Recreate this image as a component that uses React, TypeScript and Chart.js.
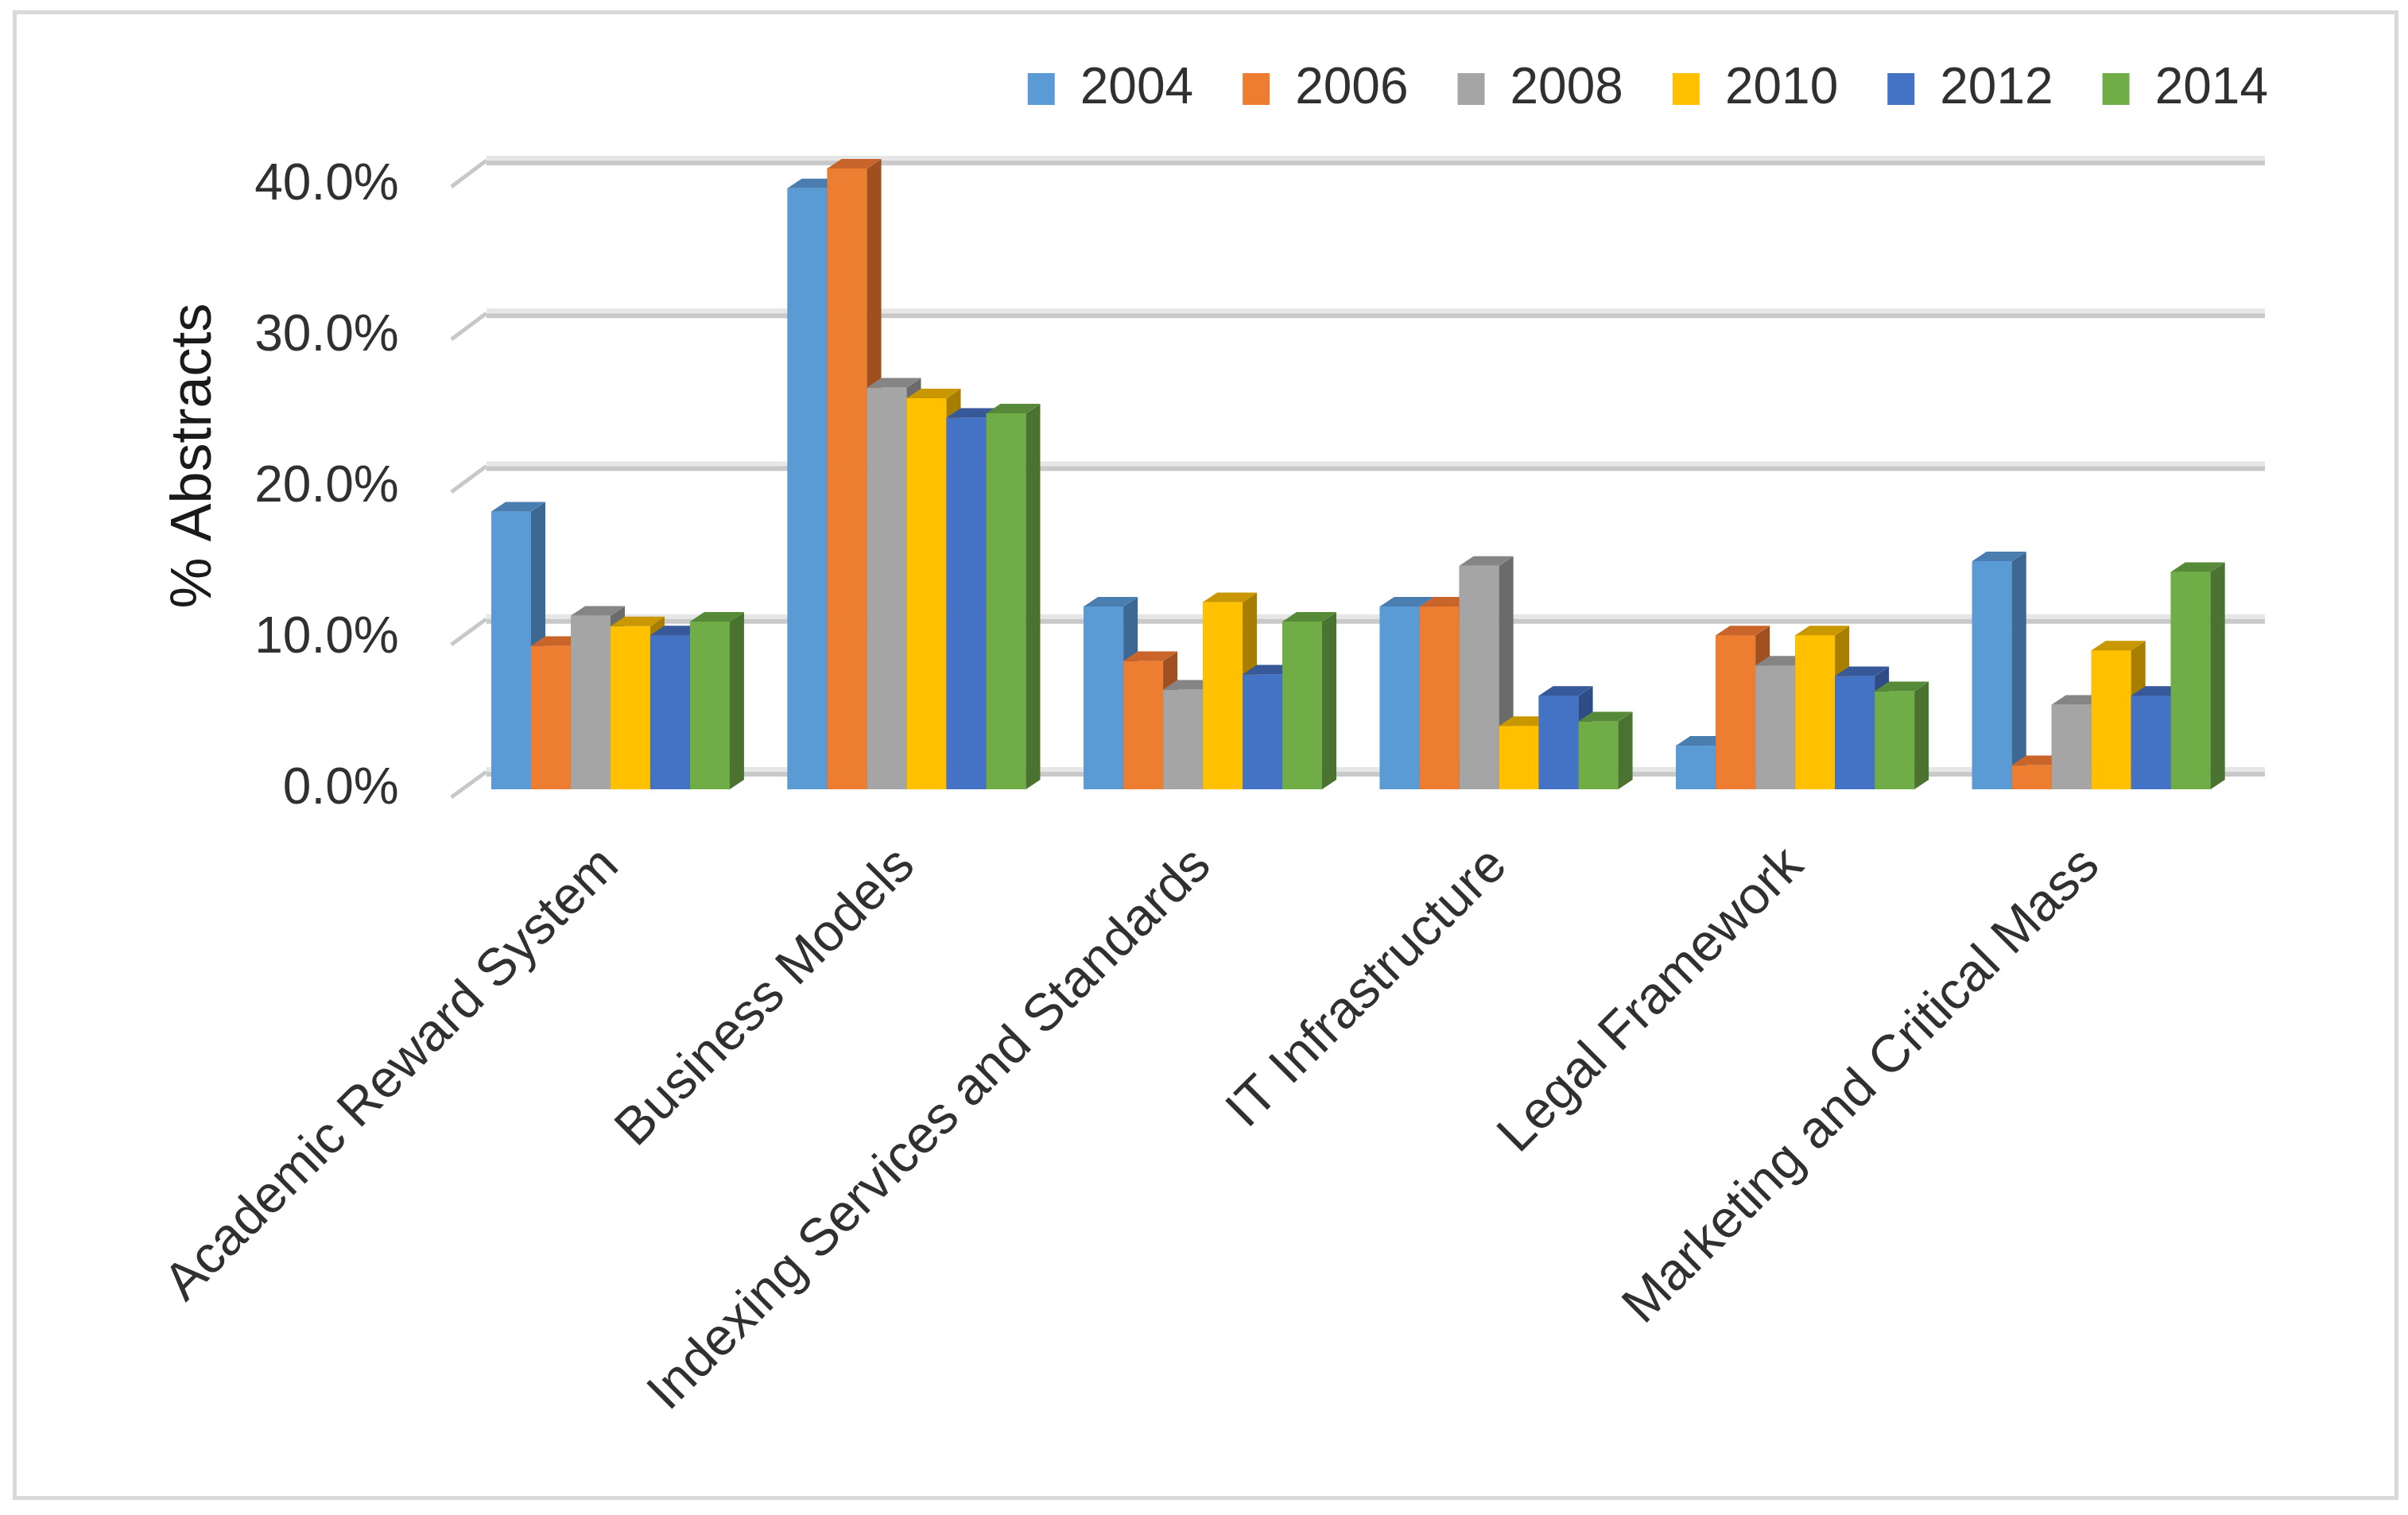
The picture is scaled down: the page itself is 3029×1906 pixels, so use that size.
import React, { useEffect, useRef } from "react";
import { Chart, registerables } from "chart.js";

Chart.register(...registerables);

// ---- data ----
const categories = [
  "Academic Reward System",
  "Business Models",
  "Indexing Services and Standards",
  "IT Infrastructure",
  "Legal Framework",
  "Marketing and Critical Mass",
];
const years = ["2004", "2006", "2008", "2010", "2012", "2014"];
const s2004 = [18.4, 39.8, 12.1, 12.1, 2.9, 15.1];
const s2006 = [9.5, 41.1, 8.5, 12.1, 10.2, 1.6];
const s2008 = [11.5, 26.6, 6.6, 14.8, 8.2, 5.6];
const s2010 = [10.8, 25.9, 12.4, 4.2, 10.2, 9.2];
const s2012 = [10.2, 24.6, 7.6, 6.2, 7.5, 6.2];
const s2014 = [11.1, 24.9, 11.1, 4.5, 6.5, 14.4];
const seriesValues = [s2004, s2006, s2008, s2010, s2012, s2014];
const yTickValues = [0, 10, 20, 30, 40];
const yTitle = "% Abstracts";

// ---- styles ----
const frontColors = ["#5B9BD5", "#ED7D31", "#A5A5A5", "#FFC000", "#4472C4", "#70AD47"];
const topColors = ["#4A7EB0", "#C9652A", "#858585", "#C99700", "#37599A", "#578A38"];
const sideColors = ["#3C6893", "#A0501E", "#6B6B6B", "#A77E00", "#2E4D87", "#4A7230"];
const PX_PER_UNIT = 19.0;
const DEPTH_X = 18;
const DEPTH_Y = 12;
const FONT = "'Liberation Sans', Arial, sans-serif";
const TEXT_COLOR = "#303030";

const wallPlugin = {
  id: "wall3d",
  afterLayout(chart: any) {
    const ys = chart.scales.y;
    const ca = chart.chartArea;
    ys.max = (ca.bottom - ca.top) / PX_PER_UNIT;
    ys.configure();
  },
  beforeDatasetsDraw(chart: any) {
    const { ctx, chartArea } = chart;
    const ys = chart.scales.y;
    ctx.save();
    for (const v of yTickValues) {
      const yF = ys.getPixelForValue(v);
      const yB = yF - 22 - (v / 40) * 9;
      const x0 = chartArea.left + 30;
      const x1 = chartArea.right + 32;
      ctx.fillStyle = "#e6e6e6";
      ctx.fillRect(x0, yB - 6, x1 - x0, 6);
      ctx.fillStyle = "#c9c9c9";
      ctx.fillRect(x0, yB, x1 - x0, 6);
      // diagonal connector
      ctx.strokeStyle = "#c8c8c8";
      ctx.lineWidth = 5;
      ctx.beginPath();
      ctx.moveTo(chartArea.left - 14, yF + 2 + (1 - v / 40) * 8);
      ctx.lineTo(x0, yB);
      ctx.stroke();
    }
    ctx.restore();
  },
};

// Repaints each bar (front, right side, top) in series order so that
// the bar to the right hides the side face of its left neighbour.
const barPlugin = {
  id: "bar3d",
  afterDatasetsDraw(chart: any) {
    const { ctx } = chart;
    ctx.save();
    for (let idx = 0; idx < chart.data.datasets.length; idx++) {
      const meta = chart.getDatasetMeta(idx);
      if (!meta || meta.hidden) continue;
      meta.data.forEach((el: any) => {
        const { x, y, base, width } = el.getProps(["x", "y", "base", "width"], true);
        const l = x - width / 2;
        const r = x + width / 2;
        // front face
        ctx.fillStyle = frontColors[idx];
        ctx.fillRect(l, y, width, base - y);
        // side face
        ctx.fillStyle = sideColors[idx];
        ctx.beginPath();
        ctx.moveTo(r, y);
        ctx.lineTo(r + DEPTH_X, y - DEPTH_Y);
        ctx.lineTo(r + DEPTH_X, base - DEPTH_Y);
        ctx.lineTo(r, base);
        ctx.closePath();
        ctx.fill();
        // top face
        ctx.fillStyle = topColors[idx];
        ctx.beginPath();
        ctx.moveTo(l, y);
        ctx.lineTo(l + DEPTH_X, y - DEPTH_Y);
        ctx.lineTo(r + DEPTH_X, y - DEPTH_Y);
        ctx.lineTo(r, y);
        ctx.closePath();
        ctx.fill();
      });
    }
    ctx.restore();
  },
};

export default function App() {
  const canvasRef = useRef<HTMLCanvasElement | null>(null);

  useEffect(() => {
    const canvas = canvasRef.current;
    if (!canvas) return;
    const chart = new Chart(canvas, {
      type: "bar",
      data: {
        labels: categories,
        datasets: years.map((yr, i) => ({
          label: yr,
          data: seriesValues[i],
          backgroundColor: frontColors[i],
          borderWidth: 0,
          categoryPercentage: 0.805,
          barPercentage: 1.0,
          clip: false as any,
          yAxisID: "y",
        })),
      },
      options: {
        responsive: false,
        devicePixelRatio: 1,
        animation: false,
        layout: { padding: { left: 201.7, right: 114, top: 18, bottom: 0 } },
        plugins: {
          legend: {
            position: "top",
            align: "end",
            labels: {
              boxWidth: 34,
              boxHeight: 40,
              padding: 62,
              color: TEXT_COLOR,
              font: { family: FONT, size: 64 },
            },
          },
          tooltip: { enabled: false },
        },
        scales: {
          x: {
            grid: { display: false, drawTicks: false },
            border: { display: false },
            ticks: {
              autoSkip: false,
              maxRotation: 45,
              minRotation: 45,
              padding: 58,
              color: TEXT_COLOR,
              font: { family: FONT, size: 66 },
            },
            afterFit: (s: any) => {
              s.height = 913;
            },
          },
          y: {
            min: 0,
            max: 42,
            grid: { display: false, drawTicks: false },
            border: { display: false },
            afterBuildTicks: (s: any) => {
              s.ticks = yTickValues.map((v) => ({ value: v }));
            },
            ticks: {
              stepSize: 10,
              includeBounds: false,
              padding: 80,
              color: TEXT_COLOR,
              font: { family: FONT, size: 64 },
              callback: (v: any) => Number(v).toFixed(1) + "%",
            },
            title: {
              display: true,
              text: yTitle,
              color: "#1a1a1a",
              font: { family: FONT, size: 72 },
              padding: { top: 0, bottom: 0 },
            },
            afterFit: (s: any) => {
              s.width = 380;
            },
          },
          yRight: {
            position: "right",
            display: true,
            grid: { display: false, drawTicks: false },
            border: { display: false },
            ticks: { display: false },
            afterFit: (s: any) => {
              s.width = 98;
            },
          },
        },
      },
      plugins: [wallPlugin, barPlugin],
    } as any);
    return () => chart.destroy();
  }, []);

  return (
    <div
      style={{
        position: "fixed",
        left: 0,
        top: 0,
        width: 3029,
        height: 1906,
        background: "#ffffff",
      }}
    >
      <div
        style={{
          position: "absolute",
          left: 16,
          top: 13,
          width: 3001,
          height: 1874,
          boxSizing: "border-box",
          border: "5px solid #d9d9d9",
        }}
      />
      <canvas
        ref={canvasRef}
        width={3029}
        height={1906}
        style={{ position: "absolute", left: 0, top: 0, width: 3029, height: 1906 }}
      />
    </div>
  );
}
